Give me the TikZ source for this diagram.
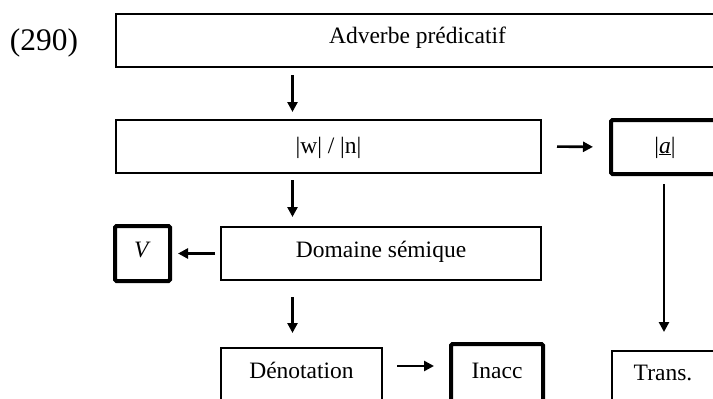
\documentclass[tikz,border=0pt]{standalone}
\usepackage{fontspec}
\setmainfont{Liberation Serif}
\usetikzlibrary{arrows.meta}
\begin{document}
\begin{tikzpicture}[x=1pt,y=-1pt,
  txt/.style={inner sep=0pt,outer sep=0pt,text height=15pt,text depth=10pt,font=\fontsize{23.5}{28}\selectfont},
  box/.style={txt,draw=black,line width=1.6pt,rectangle},
  tbox/.style={txt,draw=black,line width=4pt,rectangle,rounded corners=1.5pt},
  arr/.style={line width=2.6pt,-{Triangle[length=10pt,width=10pt]}}]
\useasboundingbox (0,0) rectangle (713,399);
\clip (0,0) rectangle (713,399);
\node[font=\fontsize{31.4}{36}\selectfont,anchor=base,inner sep=0pt] (num) at (44,50) {(290)};
\node[box,minimum width=603pt,minimum height=53pt] (adv) at (417.5,40.5) {Adverbe prédicatif};
\node[box,minimum width=425pt,minimum height=53pt] (wn) at (328.5,146.5) {\raisebox{-4pt}{|w| / |n|}};
\node[tbox,minimum width=108pt,minimum height=54pt] (a) at (665,147) {\raisebox{-3.5pt}{|\underline{\textit{a}}|}};
\node[box,minimum width=320pt,minimum height=53pt] (dom) at (381,253.5) {\raisebox{-1pt}{Domaine sémique}};
\node[tbox,minimum width=55pt,minimum height=55pt] (v) at (142.5,253.5) {\raisebox{-1pt}{\textit{V}}};
\node[box,minimum width=161pt,minimum height=60pt,anchor=north] (den) at (301.5,348) {\raisebox{2.5pt}{Dénotation}};
\node[tbox,minimum width=92pt,minimum height=64pt,anchor=north] (inacc) at (497,344) {\raisebox{0.5pt}{Inacc}};
\node[box,minimum width=102pt,minimum height=60pt,anchor=north] (trans) at (663,351) {\raisebox{3.5pt}{Trans.}};
\coordinate (c1) at (292.5,0);
\coordinate (c2) at (664,0);
\coordinate (r4) at (0,366);
\draw[arr,shorten <=8pt,shorten >=8pt] (adv.south -| c1) -- (wn.north -| c1);
\draw[arr,shorten <=7pt,shorten >=10pt] (wn.south -| c1) -- (dom.north -| c1);
\draw[arr,shorten <=17pt,shorten >=15pt] (dom.south -| c1) -- (den.north -| c1);
\draw[arr,shorten <=16pt,shorten >=18pt] (wn.east) -- (a.west);
\draw[arr,shorten <=10pt,shorten >=19pt] (a.south -| c2) -- (trans.north -| c2);
\draw[arr,shorten <=6pt,shorten >=8pt] (dom.west) -- (v.east);
\draw[arr,shorten <=15pt,shorten >=17pt] (den.east |- r4) -- (inacc.west |- r4);
\end{tikzpicture}
\end{document}
